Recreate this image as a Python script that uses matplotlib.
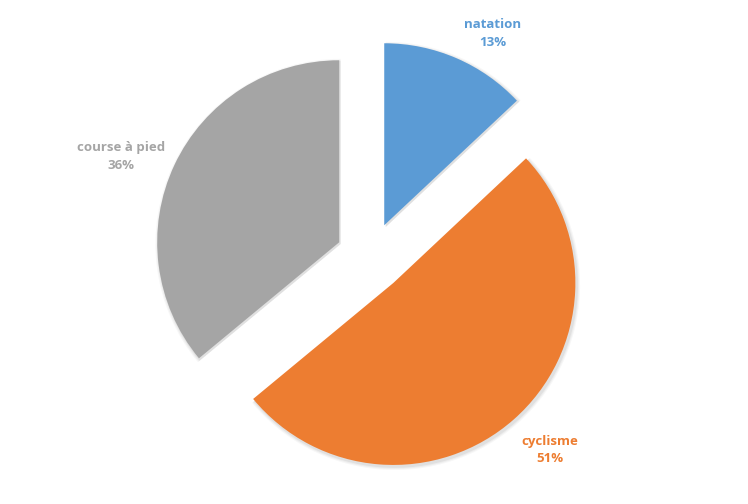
import numpy as np
import matplotlib
matplotlib.use("Agg")
import matplotlib.pyplot as plt

labels = ["natation", "cyclisme", "course à pied"]
values = [13, 51, 36]
colors = ["#5B9BD5", "#ED7D31", "#A5A5A5"]

# label positions: angle clockwise from top (deg), distance in radii
label_angle = [28.5, 136.8, 292.3]
label_dist = [1.41, 1.44, 1.48]

fig = plt.figure(figsize=(7.48, 5.04), dpi=100)
ax = fig.add_axes([0, 0, 1, 1])
ax.axis("off")

explode = [0.19] * len(values)

# soft shadow
for k, a in enumerate([0.05, 0.04, 0.03]):
    ax.pie(values, explode=explode, colors=["#000000"] * 3, startangle=90,
           counterclock=False, radius=1.0 + 0.006 * (k + 1), center=(0.008, -0.010),
           wedgeprops=dict(alpha=a, linewidth=0))

ax.pie(values, explode=explode, colors=colors, startangle=90,
       counterclock=False, radius=1.0, wedgeprops=dict(linewidth=0))
ax.set_xlim(-370.5 / 182, (748 - 370.5) / 182)
ax.set_ylim(-247 / 182, 257 / 182)
ax.set_aspect("auto")

for lab, v, c, ang, dist in zip(labels, values, colors, label_angle, label_dist):
    t = np.deg2rad(ang)
    ax.text(dist * np.sin(t), dist * np.cos(t) - 0.01, f"{lab}\n{v}%", color=c,
            ha="center", va="center", fontsize=9.5, fontweight="bold",
            family="Open Sans", linespacing=1.45)

fig.savefig("out.png", dpi=100)
